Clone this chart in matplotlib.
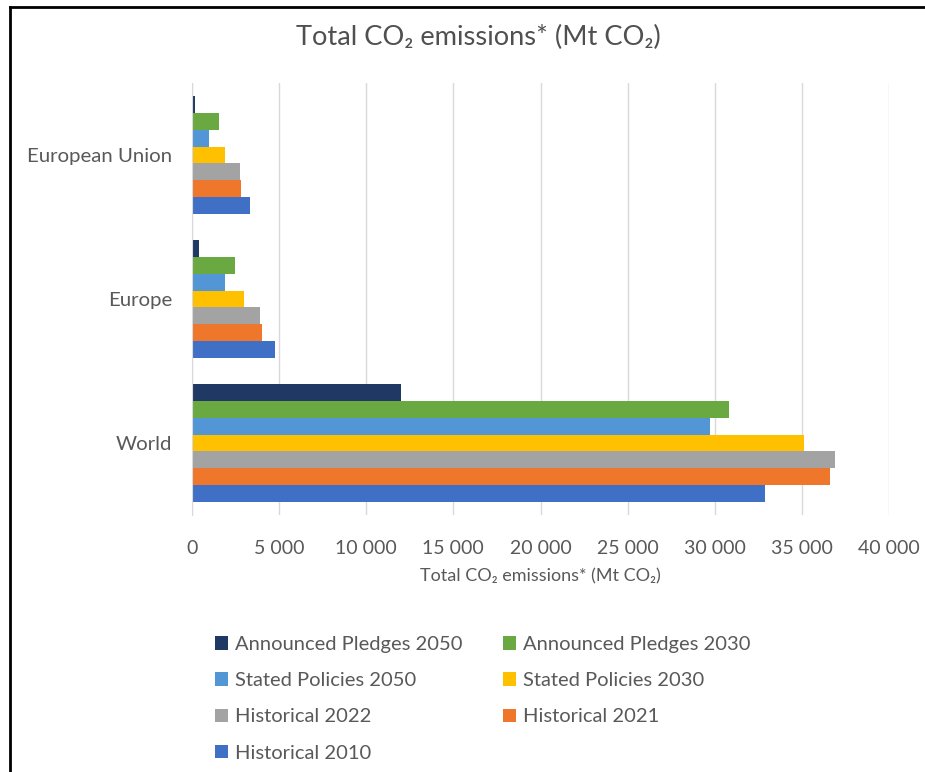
import matplotlib
matplotlib.use("Agg")
import matplotlib.pyplot as plt
from matplotlib.lines import Line2D
from matplotlib.patches import Patch
import numpy as np

plt.rcParams["font.family"] = ["Lato", "DejaVu Sans"]

# data (Mt CO2)
regions = ["World", "Europe", "European Union"]
series = [
    "Announced Pledges 2050",
    "Announced Pledges 2030",
    "Stated Policies 2050",
    "Stated Policies 2030",
    "Historical 2022",
    "Historical 2021",
    "Historical 2010",
]
ap_2050 = [12000, 420, 150]
ap_2030 = [30800, 2450, 1570]
sp_2050 = [29700, 1910, 960]
sp_2030 = [35100, 3000, 1910]
hist_2022 = [36900, 3900, 2740]
hist_2021 = [36600, 4030, 2800]
hist_2010 = [32900, 4780, 3350]
values = [ap_2050, ap_2030, sp_2050, sp_2030, hist_2022, hist_2021, hist_2010]

colors = ["#203864", "#6AA842", "#5296D5", "#FFC000", "#A3A3A3", "#EE772C", "#4070C5"]
xticks = [0, 5000, 10000, 15000, 20000, 25000, 30000, 35000, 40000]
xtick_labels = ["0", "5 000", "10 000", "15 000", "20 000", "25 000", "30 000", "35 000", "40 000"]

text_grey = "#595959"
grid_grey = "#D9D9D9"

fig = plt.figure(figsize=(9.25, 7.72), dpi=100)
ax = fig.add_axes([192 / 925, 1 - 515 / 772, (889 - 192) / 925, (515 - 83) / 772])

y = np.arange(len(regions))
h = 0.118
n = len(series)
for i, (name, vals, c) in enumerate(zip(series, values, colors)):
    offset = (n - 1) / 2 * h - i * h
    ax.barh(y + offset, vals, height=h, color=c, label=name, zorder=3)

ax.set_xlim(0, 40000)
ax.set_ylim(-0.5, 2.5)
ax.set_xticks(xticks)
ax.set_xticklabels(xtick_labels)
ax.set_yticks(y)
ax.set_yticklabels(regions)
ax.tick_params(axis="x", length=0, pad=18, labelsize=14, labelcolor=text_grey)
ax.tick_params(axis="y", length=0, pad=14, labelsize=14.7, labelcolor=text_grey)
ax.grid(axis="x", color=grid_grey, linewidth=1, zorder=0)
for s in ["top", "right", "bottom"]:
    ax.spines[s].set_visible(False)
ax.spines["left"].set_color(grid_grey)
ax.spines["left"].set_zorder(4)

ax.set_xlabel("Total CO\u2082 emissions* (Mt CO\u2082)", fontsize=13, color=text_grey, labelpad=8)
fig.text(478 / 925, 1 - 37 / 772, "Total CO\u2082 emissions* (Mt CO\u2082)",
         ha="center", va="center", fontsize=19.6, color="#505050")

# legend filled row by row, two columns
order = [0, 2, 4, 6, 1, 3, 5]
handles = [Patch(facecolor=colors[k], edgecolor="none") for k in order]
labels = [series[k] for k in order]
leg = fig.legend(handles, labels, ncol=2, loc="upper left",
                 bbox_to_anchor=(197 / 925, 1 - 618 / 772), frameon=False,
                 fontsize=14.5, labelcolor=text_grey, handlelength=0.65, handleheight=0.65,
                 handletextpad=0.35, columnspacing=2.0, labelspacing=0.95)

# outer frame like the screenshot (left and top edge)
fig.add_artist(Line2D([10 / 925, 10 / 925], [0, 1 - 7 / 772], color="black", linewidth=2,
                      transform=fig.transFigure))
fig.add_artist(Line2D([10 / 925, 1], [1 - 7 / 772, 1 - 7 / 772], color="black", linewidth=2,
                      transform=fig.transFigure))

fig.savefig("out.png", dpi=100)
